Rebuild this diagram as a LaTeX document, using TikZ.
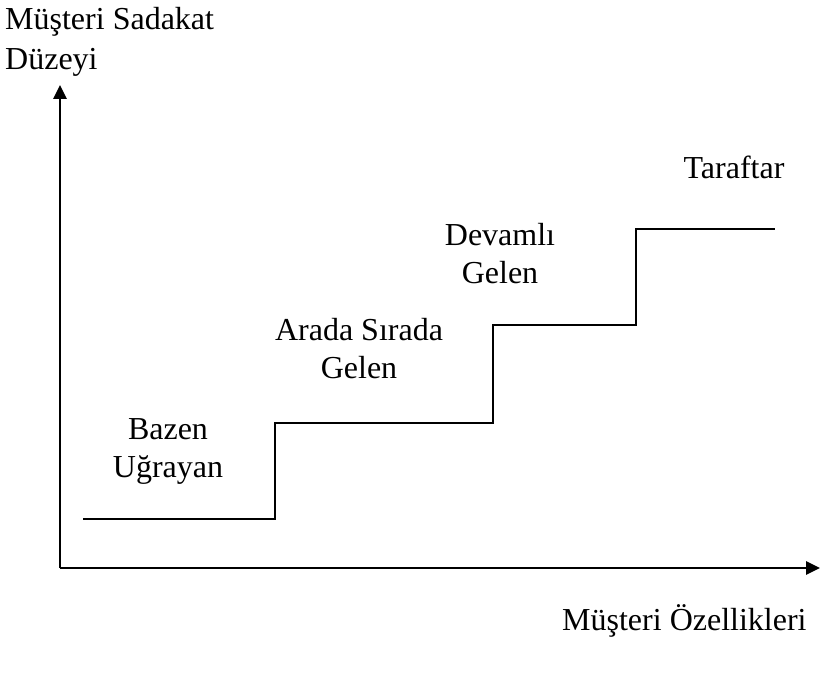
\documentclass[tikz,border=0pt]{standalone}
\usepackage{fontspec}
\setmainfont{Liberation Serif}
\usetikzlibrary{arrows.meta}
\begin{document}
\begin{tikzpicture}[x=1bp,y=-1bp,
  axis/.style={line width=2.8bp,-{Triangle[length=14bp,width=13bp]}},
  stair/.style={line width=2.8bp,line join=miter},
  lbl/.style={font=\fontsize{32bp}{38bp}\selectfont,align=center,anchor=base,inner sep=0pt}]
\useasboundingbox (0,0) rectangle (825,674);
% axes
\coordinate (O) at (60,568);
\coordinate (ytop) at (60,85);
\coordinate (xend) at (820,568);
\draw[axis] (O) -- (ytop);
\draw[axis] (O) -- (xend);
% staircase corners
\coordinate (s0) at (83,519);
\coordinate (s1) at (275,519);
\coordinate (s2) at (275,423);
\coordinate (s3) at (493,423);
\coordinate (s4) at (493,325);
\coordinate (s5) at (636,325);
\coordinate (s6) at (636,229);
\coordinate (s7) at (775,229);
\draw[stair] (s0) -- (s1) -- (s2) -- (s3) -- (s4) -- (s5) -- (s6) -- (s7);
% labels (anchor = baseline of the last line)
\node[lbl,align=left,anchor=base west] (ylab) at (5,70) {Müşteri Sadakat\\[2bp]Düzeyi};
\node[lbl,anchor=base west] (xlab) at (562,630) {Müşteri Özellikleri};
\node[lbl] (l1) at (168,477) {Bazen\\Uğrayan};
\node[lbl] (l2) at (359,378) {Arada Sırada\\Gelen};
\node[lbl] (l3) at (500,283) {Devamlı\\Gelen};
\node[lbl] (l4) at (734,178) {Taraftar};
\end{tikzpicture}
\end{document}
